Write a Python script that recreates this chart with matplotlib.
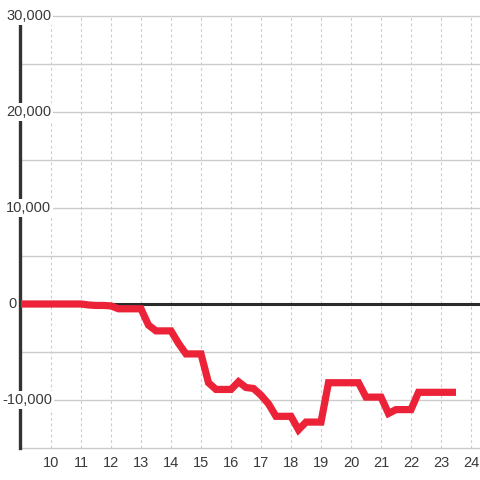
import matplotlib
matplotlib.use("Agg")
import matplotlib.pyplot as plt
import numpy as np

plt.rcParams['font.family'] = ['Liberation Sans', 'DejaVu Sans']

# quarter-hour time points and running values
hours = [9.0, 9.25, 9.5, 9.75, 10.0, 10.25, 10.5, 10.75, 11.0, 11.25, 11.5, 11.75,
         12.0, 12.25, 12.5, 12.75, 13.0, 13.25, 13.5, 13.75, 14.0, 14.25, 14.5, 14.75,
         15.0, 15.25, 15.5, 15.75, 16.0, 16.25, 16.5, 16.75, 17.0, 17.25, 17.5, 17.75,
         18.0, 18.25, 18.5, 18.75, 19.0, 19.25, 19.5, 19.75, 20.0, 20.25, 20.5, 20.75,
         21.0, 21.25, 21.5, 21.75, 22.0, 22.25, 22.5, 22.75, 23.0, 23.25, 23.5]
values = [0, 0, 0, 0, 0, 0, 0, 0, 0, -100, -150, -150,
          -200, -500, -500, -500, -500, -2200, -2800, -2800, -2800, -4100, -5200, -5200,
          -5200, -8200, -8900, -8900, -8900, -8100, -8700, -8800, -9500, -10400, -11700, -11700,
          -11700, -13100, -12300, -12300, -12300, -8200, -8200, -8200, -8200, -8200, -9700, -9700,
          -9700, -11400, -11000, -11000, -11000, -9200, -9200, -9200, -9200, -9200, -9200]

x_ticks = list(range(10, 25))
y_labels = [30000, 20000, 10000, 0, -10000]

fig = plt.figure(figsize=(4.8, 4.8), dpi=100)
ax = fig.add_axes([20 / 480, 32 / 480, 460 / 480, 432 / 480])
ax.set_xlim(8.967, 24.3)
ax.set_ylim(-15000, 30000)

for s in ax.spines.values():
    s.set_visible(False)

# horizontal grid every 5000
for yv in range(-15000, 30001, 5000):
    ax.axhline(yv, color='#cccccc', lw=1, zorder=1, clip_on=False)
# vertical dotted grid each hour
for xv in x_ticks:
    ax.axvline(xv, color='#cccccc', lw=0.8, ls=(0, (2.5, 2.5)), zorder=1)

ax.axhline(0, color='#2b2b2b', lw=2.2, zorder=2)
ax.axvline(8.967, color='#333333', lw=2.4, zorder=2, clip_on=False)

ax.plot(hours, values, color='#ec2338', lw=5.2, zorder=3,
        solid_capstyle='butt', solid_joinstyle='miter')

ax.set_xticks(x_ticks)
ax.set_xticklabels([str(t) for t in x_ticks])
ax.tick_params(axis='x', length=0, pad=6, labelsize=10.5, labelcolor='#3a3a3a')
ax.set_yticks([])

tr = ax.get_yaxis_transform()
for yv in y_labels:
    txt = f"{yv:,}"
    xpx = 2 if yv < 0 else (8 if yv == 0 else 6)
    ax.text((xpx - 20) / 460, yv, txt, transform=tr, ha='left', va='center',
            fontsize=10.5, color='#3a3a3a', zorder=5, clip_on=False,
            bbox=dict(facecolor='white', edgecolor='none', pad=1.5))

fig.savefig("out.png", dpi=100, facecolor='white')
